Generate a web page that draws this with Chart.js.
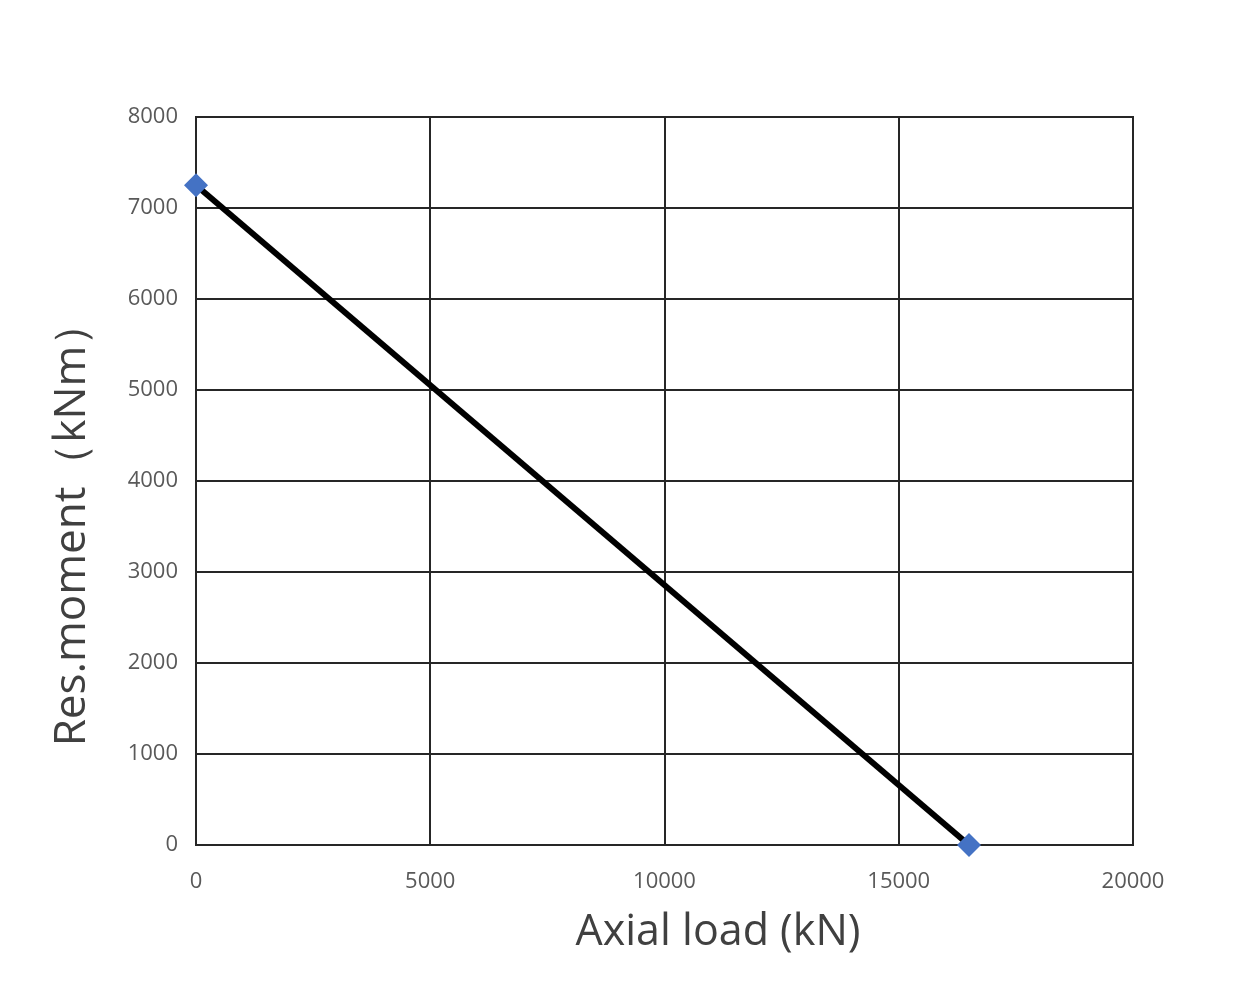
<!DOCTYPE html>
<html>
<head>
<meta charset="utf-8">
<script src="https://cdn.jsdelivr.net/npm/chart.js@4/dist/chart.umd.min.js"></script>
<style>
  html, body { margin: 0; padding: 0; background: #fff; }
  #wrap { width: 1260px; height: 990px; }
</style>
</head>
<body>
<div id="wrap"><canvas id="chart" width="1260" height="990"></canvas></div>
<script>
// --- data ---
const axialLoad = [0, 16500];      // kN
const resMoment = [7250, 0];       // kNm
const xTicks = [0, 5000, 10000, 15000, 20000];
const yTicks = [0, 1000, 2000, 3000, 4000, 5000, 6000, 7000, 8000];
const xTitle = 'Axial load (kN)';
const yTitle = 'Res.moment（kNm）';

const gridColor = '#262626';
const tickColor = '#595959';
const titleColor = '#404040';
const fontFamily = "'Open Sans', 'Noto Sans', sans-serif";

const points = axialLoad.map((x, i) => ({ x: x, y: resMoment[i] }));

// axis titles sit a little off-centre in the reference, so draw them here
const axisTitles = {
    id: 'axisTitles',
    afterDraw(chart) {
        const { ctx } = chart;
        ctx.save();
        ctx.fillStyle = titleColor;
        ctx.font = `43px ${fontFamily}`;
        ctx.textAlign = 'center';
        ctx.textBaseline = 'middle';
        ctx.fillText(xTitle, 718, 933);
        ctx.translate(72, 524);
        ctx.rotate(-Math.PI / 2);
        ctx.font = `44px ${fontFamily}`;
        ctx.fillText(yTitle, 0, 0);
        ctx.restore();
    }
};

const frame = {
    id: 'frame',
    beforeDatasetsDraw(chart) {
        const { ctx, chartArea: a } = chart;
        ctx.save();
        ctx.strokeStyle = gridColor;
        ctx.lineWidth = 2;
        ctx.strokeRect(a.left, a.top, a.right - a.left, a.bottom - a.top);
        ctx.restore();
    }
};

new Chart(document.getElementById('chart'), {
    type: 'scatter',
    data: {
        datasets: [{
            data: points,
            showLine: true,
            borderColor: '#000000',
            borderWidth: 6,
            pointStyle: 'rectRot',
            pointRadius: 12,
            pointHoverRadius: 12,
            pointBackgroundColor: '#4472C4',
            pointBorderColor: '#4472C4',
            pointBorderWidth: 0,
            clip: false
        }]
    },
    options: {
        responsive: false,
        animation: false,
        layout: { padding: { top: 117, right: 127, left: 0, bottom: 0 } },
        plugins: { legend: { display: false }, tooltip: { enabled: false } },
        scales: {
            x: {
                type: 'linear',
                min: 0, max: 20000,
                afterBuildTicks: s => { s.ticks = xTicks.map(v => ({ value: v })); },
                afterFit: s => { s.height = 145; },
                grid: { color: gridColor, lineWidth: 2, drawTicks: false },
                border: { color: gridColor, width: 2 },
                ticks: {
                    color: tickColor, font: { family: fontFamily, size: 22 }, padding: 24, maxRotation: 0,
                    callback: v => String(v)
                }
            },
            y: {
                type: 'linear',
                min: 0, max: 8000,
                afterBuildTicks: s => { s.ticks = yTicks.map(v => ({ value: v })); },
                afterFit: s => { s.width = 196; },
                grid: { color: gridColor, lineWidth: 2, drawTicks: false },
                border: { color: gridColor, width: 2 },
                ticks: {
                    color: tickColor, font: { family: fontFamily, size: 22 }, padding: 18,
                    callback: v => String(v)
                }
            }
        }
    },
    plugins: [frame, axisTitles]
});
</script>
</body>
</html>
